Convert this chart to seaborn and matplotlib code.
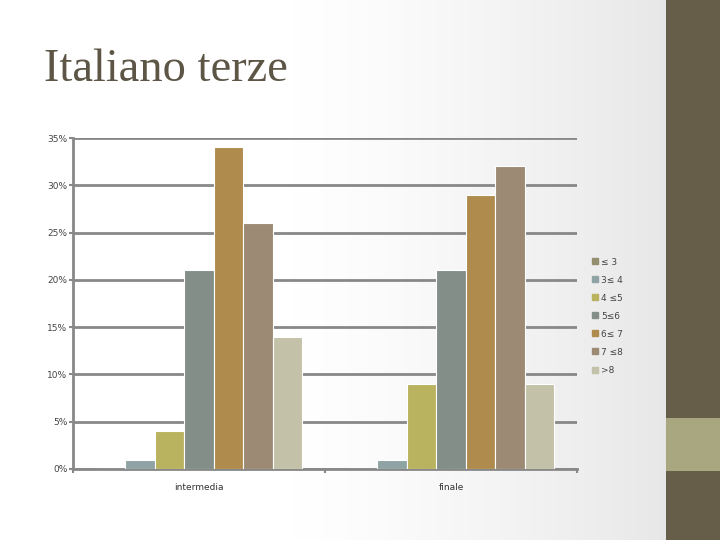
import numpy as np
import pandas as pd
import matplotlib
matplotlib.use("Agg")
import matplotlib.pyplot as plt
import seaborn as sns
from matplotlib.lines import Line2D
from matplotlib.patches import Rectangle
from matplotlib.colors import LinearSegmentedColormap

title = "Italiano terze"
categories = ["intermedia", "finale"]
series = ["≤ 3", "3≤ 4", "4 ≤5", "5≤6", "6≤ 7", "7 ≤8", ">8"]
intermedia = [0, 1, 4, 21, 34, 26, 14]
finale = [0, 1, 9, 21, 29, 32, 9]
colors = ["#938e6e", "#8fa3a4", "#b9b35f", "#838e89", "#b08b4e", "#9c8a74", "#c3c1a8"]
yticks = [0, 5, 10, 15, 20, 25, 30, 35]

rows = []
for cat, vals in zip(categories, [intermedia, finale]):
    for s, v in zip(series, vals):
        rows.append({"cat": cat, "series": s, "val": v})
df = pd.DataFrame(rows)

sns.set_theme(style="white")
plt.rcParams['font.family'] = ['DejaVu Sans']

fig = plt.figure(figsize=(7.2, 5.4), dpi=100)

# background gradient
bg = fig.add_axes([0, 0, 1, 1], zorder=-10)
bg.set_axis_off()
w = 720
xs = np.linspace(0, 1, w)
grad = np.clip((xs - 0.4) / (0.92 - 0.4), 0, 1) ** 1.3
img = np.tile(grad, (540, 1))
cmap = LinearSegmentedColormap.from_list("g", ["#ffffff", "#e8e8e8"])
bg.imshow(img, cmap=cmap, aspect="auto", extent=[0, 720, 540, 0], vmin=0, vmax=1)
bg.add_patch(Rectangle((660, 0), 6, 540, color="#e6e6e6", lw=0))
bg.add_patch(Rectangle((666, 0), 54, 540, color="#665e48", lw=0))
bg.add_patch(Rectangle((666, 418), 54, 53, color="#a9a77f", lw=0))
bg.set_xlim(0, 720)
bg.set_ylim(540, 0)

fig.text(44 / 720, 1 - 70 / 540, title, fontsize=33.5, family="Liberation Serif",
         color="#5d5646", va="center", ha="left")

ax = fig.add_axes([73 / 720, 1 - 469 / 540, (577 - 73) / 720, (469 - 138) / 540])
ax.patch.set_alpha(0)
sns.barplot(data=df, x="cat", y="val", hue="series", palette=colors, ax=ax,
            width=0.82, saturation=1, edgecolor="white", linewidth=0.8,
            legend=False, zorder=3)
ax.set_ylim(0, 35)
ax.set_xlim(-0.5, 1.5)
ax.set_yticks(yticks)
ax.set_yticklabels([f"{t}%" for t in yticks], fontsize=6.5, color="#444444")
ax.set_xticks([0, 1])
ax.set_xticklabels(categories, fontsize=6.5, color="#333333")
ax.set_xticks([-0.5, 0.5, 1.5], minor=True)
ax.tick_params(axis="x", which="major", length=0, pad=10)
ax.tick_params(axis="x", which="minor", length=3, color="#888888", width=1.5, bottom=True)
ax.tick_params(axis="y", length=3, color="#888888", width=1.5, left=True, pad=1)
ax.set_xlabel("")
ax.set_ylabel("")
ax.grid(axis="y", color="#888888", linewidth=2, zorder=0)
ax.set_axisbelow(True)
for side in ["top", "right"]:
    ax.spines[side].set_visible(False)
for side in ["left", "bottom"]:
    ax.spines[side].set_color("#888888")
    ax.spines[side].set_linewidth(2)

handles = [Line2D([], [], marker="s", linestyle="none", markersize=4.5,
                  markerfacecolor=c, markeredgecolor=c) for c in colors]
leg = fig.legend(handles, series, loc="upper left", bbox_to_anchor=(586 / 720, 1 - 253 / 540),
                 frameon=False, fontsize=6.5, handletextpad=0.2, labelspacing=1.0,
                 handlelength=1.0, borderpad=0)
for t in leg.get_texts():
    t.set_color("#444444")

fig.savefig("out.png", dpi=100)
